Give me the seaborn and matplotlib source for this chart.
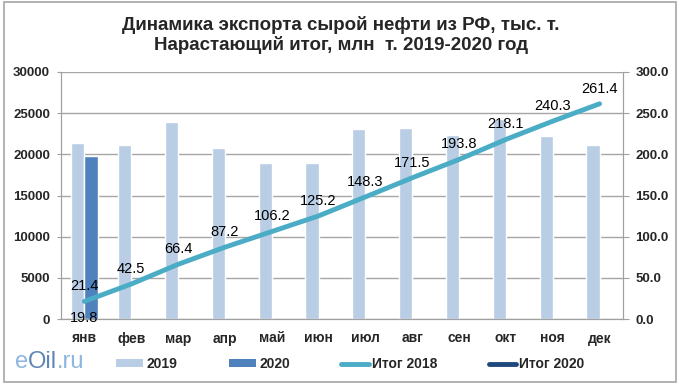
import numpy as np
import pandas as pd
import matplotlib
matplotlib.use("Agg")
import matplotlib.pyplot as plt
from matplotlib.patches import Rectangle, Patch
from matplotlib.lines import Line2D
import seaborn as sns

months = ["янв", "фев", "мар", "апр", "май", "июн", "июл", "авг", "сен", "окт", "ноя", "дек"]
exp_2019 = [21400, 21100, 23900, 20800, 19000, 19000, 23100, 23200, 22300, 24300, 22200, 21100]
exp_2020 = [19800] + [np.nan] * 11
cum_2018 = [21.4, 42.5, 66.4, 87.2, 106.2, 125.2, 148.3, 171.5, 193.8, 218.1, 240.3, 261.4]
cum_2020 = [19.8]
left_ticks = [0, 5000, 10000, 15000, 20000, 25000, 30000]
right_ticks = [0, 50, 100, 150, 200, 250, 300]

title = "Динамика экспорта сырой нефти из РФ, тыс. т.\nНарастающий итог, млн  т. 2019-2020 год"

c2019 = "#B9CDE5"
c2020 = "#4F81BD"
cline = "#4BACC6"
cnavy = "#1F497D"

sns.set_style("white")
plt.rcParams["font.family"] = ["Liberation Sans", "DejaVu Sans"]

df = pd.DataFrame({
    "month": months * 2,
    "value": exp_2019 + exp_2020,
    "year": ["2019"] * 12 + ["2020"] * 12,
})

fig = plt.figure(figsize=(6.82, 3.89), dpi=100)
W, H = 682, 389
ax = fig.add_axes([61 / W, 1 - 319 / H, (623 - 61) / W, (319 - 72) / H])

sns.barplot(data=df, x="month", y="value", hue="year", order=months,
            hue_order=["2019", "2020"], palette={"2019": c2019, "2020": c2020},
            width=0.56, saturation=1, ax=ax, legend=False, zorder=2)
ax.set_xlim(-0.5, len(months) - 0.5)
ax.set_ylim(left_ticks[0], left_ticks[-1])
ax.set_yticks(left_ticks)
ax.set_yticklabels([str(t) for t in left_ticks], fontsize=9.5, fontweight="bold")
ax.set_xlabel("")
ax.set_ylabel("")
ax.set_xticks(range(len(months)))
ax.set_xticklabels(months, fontsize=10, fontweight="bold")
ax.set_xticks(np.arange(-0.5, len(months), 1), minor=True)
ax.tick_params(axis="x", which="major", length=0, pad=9)
ax.tick_params(axis="x", which="minor", length=4, color="#A0A0A0", direction="out")
ax.tick_params(axis="y", length=3, color="#A0A0A0", direction="out", pad=5, left=True)
ax.grid(axis="y", color="#A6A6A6", linewidth=1)
ax.set_axisbelow(True)
ax.spines["top"].set_visible(False)
for s in ["left", "bottom", "right"]:
    ax.spines[s].set_color("#A0A0A0")

ax2 = ax.twinx()
xpos = np.arange(len(months))
sns.lineplot(x=xpos, y=cum_2018, color=cline, linewidth=3.5, ax=ax2, zorder=3)
ax2.plot(xpos[:len(cum_2020)], cum_2020, color=cnavy, linewidth=3.5)
ax2.set_ylim(right_ticks[0], right_ticks[-1])
ax2.set_yticks(right_ticks)
ax2.set_yticklabels([f"{t:.1f}" for t in right_ticks], fontsize=9.5, fontweight="bold")
ax2.tick_params(axis="y", length=4, color="#A0A0A0", direction="out", pad=5, right=True)
ax2.spines["top"].set_visible(False)
for s in ["left", "bottom", "right"]:
    ax2.spines[s].set_color("#A0A0A0")
ax2.grid(False)

for i, v in enumerate(cum_2018):
    ax2.annotate(f"{v:.1f}", (i, v), xytext=(0, 11), textcoords="offset points",
                 ha="center", va="center", fontsize=10.5, color="black")
for i, v in enumerate(cum_2020):
    ax2.annotate(f"{v:.1f}", (i, v), xytext=(0, -11), textcoords="offset points",
                 ha="center", va="center", fontsize=10.5, color="black")

fig.text(341 / W, 1 - 35 / H, title, ha="center", va="center", fontsize=13.5,
         fontweight="bold", linespacing=1.2)

handles = [
    Patch(facecolor=c2019, edgecolor="none"),
    Patch(facecolor=c2020, edgecolor="none"),
    Line2D([], [], color=cline, linewidth=3.5, solid_capstyle="round"),
    Line2D([], [], color=cnavy, linewidth=3.5, solid_capstyle="round"),
]
labels = ["2019", "2020", "Итог 2018", "Итог 2020"]
fig.legend(handles, labels, ncol=4, loc="center", bbox_to_anchor=(350 / W, 1 - 364 / H),
           frameon=False, handlelength=2.0, handleheight=0.5,
           columnspacing=3.7, handletextpad=0.2, prop={"weight": "bold", "size": 10})

# logo
renderer = fig.canvas.get_renderer()
x0 = 15 / W
ylogo = 1 - 362 / H
for part, col in [("e", "#8DB6E0"), ("Oil", "#5E86B4"), (".ru", "#8DB6E0")]:
    t = fig.text(x0, ylogo, part, ha="left", va="center", fontsize=17, color=col,
                 family=["Liberation Sans"])
    bb = t.get_window_extent(renderer=renderer)
    x0 = bb.x1 / fig.bbox.width

fig.add_artist(Rectangle((4 / W, 1 - 382 / H), (676 - 4) / W, (382 - 2) / H,
                         transform=fig.transFigure, fill=False, edgecolor="#A6A6A6",
                         linewidth=1.2))

fig.savefig("out.png", dpi=100)
